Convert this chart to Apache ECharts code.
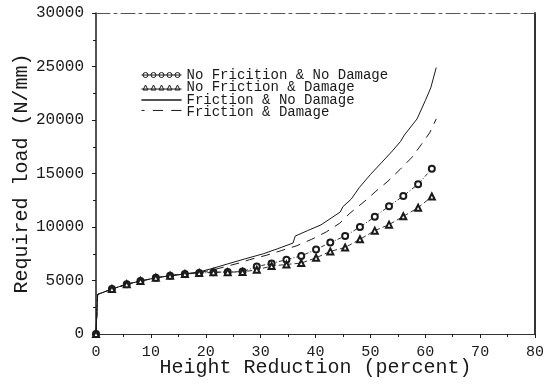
<!DOCTYPE html>
<html>
<head>
<meta charset="utf-8">
<script src="https://cdn.jsdelivr.net/npm/echarts@6/dist/echarts.min.js"></script>
<style>
  html, body { margin: 0; padding: 0; background: #fff; }
  #chart { width: 556px; height: 386px; }
</style>
</head>
<body>
<div id="chart"></div>
<script>
// marker series share the same reduction steps
const xMarks = [0, 0.3, 2.9, 5.6, 8.1, 10.9, 13.5, 16.2, 18.8, 21.4, 24.0, 26.7, 29.3, 32.0, 34.7, 37.4, 40.1, 42.7, 45.4, 48.1, 50.8, 53.4, 56.0, 58.7, 61.2]
const noFricNoDamage = [0, 3700, 4200, 4650, 4950, 5250, 5450, 5600, 5700, 5780, 5800, 5830, 6300, 6600, 6950, 7300, 7900, 8550, 9150, 10000, 10950, 11950, 12900, 14000, 15450]
const noFricDamage = [0, 3700, 4200, 4650, 4950, 5250, 5450, 5600, 5700, 5760, 5780, 5800, 6000, 6350, 6500, 6630, 7120, 7720, 8090, 8850, 9660, 10220, 11000, 11800, 12850]

const xFric = [0, 0.3, 2.9, 5.6, 8.1, 10.9, 13.5, 16.2, 18.8, 21.0, 24.0, 27.0, 30.5, 33.0, 35.9, 36.3, 38.5, 41.0, 44.5, 45.0, 46.5, 48.0, 50.0, 52.0, 54.0, 55.5, 56.2, 58.5, 60.0, 61.0, 62.0]
const fricNoDamage = [0, 3700, 4200, 4650, 4950, 5250, 5450, 5620, 5800, 6100, 6550, 7000, 7500, 7950, 8500, 9150, 9650, 10200, 11400, 11900, 12600, 13700, 14900, 16000, 17100, 18000, 18600, 20100, 21800, 23000, 24900]

const xDam = [0, 0.3, 2.9, 5.6, 8.1, 10.9, 13.5, 16.2, 18.8, 21.0, 24.0, 26.2, 28.0, 31.0, 33.8, 36.6, 39.3, 42.0, 44.4, 46.3, 49.3, 51.0, 53.2, 55.4, 57.5, 59.3, 60.8, 62.0]
const fricDamage = [0, 3700, 4200, 4650, 4950, 5250, 5450, 5600, 5750, 5950, 6350, 6650, 6950, 7350, 7800, 8250, 8850, 9550, 10350, 11300, 12550, 13340, 14280, 15375, 16470, 17720, 18800, 20100]

const seriesNames = ['No Fricition & No Damage', 'No Friction & Damage', 'Friction & No Damage', 'Friction & Damage']

const pairs = (xs, ys) => xs.map((x, i) => [x, ys[i]])
const font = 'Liberation Mono'
const ink = '#1a1a1a'

// legend icons: a row of small markers / line patterns
let circlePath = 'path://M0,4L40,4'
let triPath = 'path://M0,6L40,6'
for (let i = 0; i < 5; i++) {
  const cx = 4 + i * 8
  circlePath += `M${cx + 2.5},4A2.5,2.5 0 1 1 ${cx - 2.5},4A2.5,2.5 0 1 1 ${cx + 2.5},4Z`
  triPath += `M${cx - 2.5},7L${cx},2L${cx + 2.5},7Z`
}
const icons = [circlePath, triPath, 'path://M0,4L40,4L40,4.01L0,4.01Z', 'path://M0,4L3,4M11,4L21,4M29,4L39,4M0,8L0,8.01']

const chart = echarts.init(document.getElementById('chart'))

const option = {
  animation: false,
  backgroundColor: '#fff',
  grid: { left: 96, right: 21, top: 13, bottom: 52, outerBoundsMode: 'none' },
  legend: {
    orient: 'vertical',
    left: 134,
    top: 63,
    itemWidth: 40,
    itemHeight: 8,
    itemGap: -1.5,
    textStyle: { fontFamily: font, fontSize: 14, color: ink, lineHeight: 11 },
    data: seriesNames.map((name, i) => ({
      name,
      icon: icons[i],
      itemStyle: { color: 'none', borderColor: ink, borderWidth: 1 }
    }))
  },
  xAxis: [
    {
      type: 'value',
      position: 'bottom',
      min: 0,
      max: 80,
      interval: 10,
      name: 'Height Reduction (percent)',
      nameLocation: 'middle',
      nameGap: 24,
      nameMoveOverlap: false,
      nameTextStyle: { fontFamily: font, fontSize: 20, color: ink },
      axisLine: { show: true, onZero: false, lineStyle: { color: '#333', width: 1 } },
      axisTick: { show: true, length: 4, lineStyle: { color: ink } },
      minorTick: { show: true, splitNumber: 2, length: 3, lineStyle: { color: ink } },
      axisLabel: { fontFamily: font, fontSize: 15, color: ink, margin: 11 },
      splitLine: { show: false }
    },
    {
      type: 'value',
      position: 'top',
      min: 0,
      max: 80,
      interval: 10,
      axisLine: { show: true, onZero: false, lineStyle: { color: '#555', width: 1, type: [14, 4, 3, 4] } },
      axisTick: { show: false },
      axisLabel: { show: false },
      splitLine: { show: false }
    }
  ],
  yAxis: [
    {
      type: 'value',
      position: 'left',
      min: 0,
      max: 30000,
      interval: 5000,
      name: 'Required load (N/mm)',
      nameLocation: 'middle',
      nameGap: 64,
      nameMoveOverlap: false,
      nameTextStyle: { fontFamily: font, fontSize: 20, color: ink },
      axisLine: { show: true, onZero: false, lineStyle: { color: ink, width: 1.5 } },
      axisTick: { show: true, length: 4, lineStyle: { color: ink } },
      minorTick: { show: true, splitNumber: 2, length: 3, lineStyle: { color: ink } },
      axisLabel: { fontFamily: font, fontSize: 16, color: ink, margin: 12, formatter: v => String(v) },
      splitLine: { show: false }
    },
    {
      type: 'value',
      position: 'right',
      min: 0,
      max: 30000,
      interval: 5000,
      axisLine: { show: true, onZero: false, lineStyle: { color: '#333', width: 2 } },
      axisTick: { show: false },
      axisLabel: { show: false },
      splitLine: { show: false }
    }
  ],
  series: [
    {
      name: seriesNames[0],
      type: 'line',
      data: pairs(xMarks, noFricNoDamage),
      symbol: (v, p) => (p.dataIndex === 1 ? 'none' : 'emptyCircle'),
      symbolSize: 6,
      itemStyle: { color: ink, borderWidth: 1 },
      lineStyle: { color: '#333', width: 1, type: [4, 2, 1, 2] }
    },
    {
      name: seriesNames[1],
      type: 'line',
      data: pairs(xMarks, noFricDamage),
      symbol: (v, p) => (p.dataIndex === 1 ? 'none' : 'emptyTriangle'),
      symbolSize: 6,
      itemStyle: { color: ink, borderWidth: 1 },
      lineStyle: { color: '#333', width: 1, type: [5, 3] }
    },
    {
      name: seriesNames[2],
      type: 'line',
      data: pairs(xFric, fricNoDamage),
      symbol: 'none',
      itemStyle: { color: ink },
      lineStyle: { color: ink, width: 1 }
    },
    {
      name: seriesNames[3],
      type: 'line',
      data: pairs(xDam, fricDamage),
      symbol: 'none',
      itemStyle: { color: ink },
      lineStyle: { color: ink, width: 1, type: [9, 7] }
    }
  ]
}

chart.setOption(option)
</script>
</body>
</html>
